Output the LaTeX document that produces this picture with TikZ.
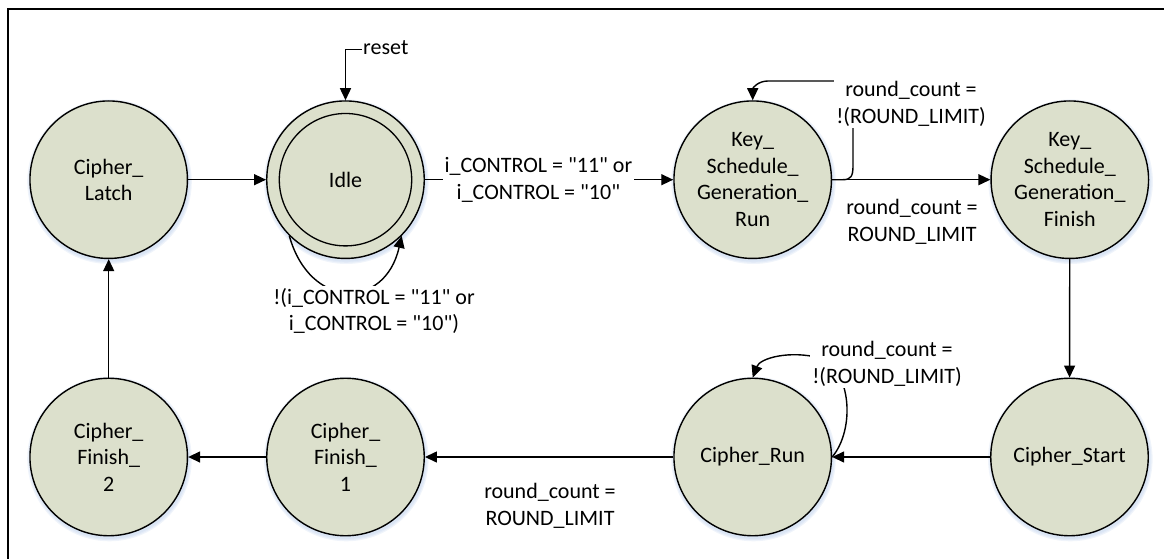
\documentclass[tikz,border=0pt]{standalone}
\usepackage{fontspec}
% no TeX ligature mapping, so that " stays a straight quote
\newfontfamily\diagfont{Carlito}
\usetikzlibrary{arrows.meta,backgrounds}
\definecolor{statefill}{RGB}{220,224,204}
\definecolor{glow}{RGB}{185,205,235}

\begin{document}
\begin{tikzpicture}[x=1pt,y=-1pt,
  every node/.style={font=\diagfont\fontsize{22}{26.5}\selectfont},
  state/.style={circle, draw, line width=1.4pt, fill=statefill,
                minimum size=157.5pt, inner sep=0pt, align=center},
  conn/.style={line width=1.4pt, -{Triangle[length=12pt,width=11pt]}},
  lbl/.style={align=center, inner sep=2pt},
  mask/.style={lbl, fill=white},
]
\useasboundingbox (0,0) rectangle (1164,559);

% frame
\draw[line width=2pt] (1164,9) -- (7.7,9) -- (7.7,559);

% states
\node[state] (latch)  at (108.7,179.7) {Cipher\_\\Latch};
\node[state] (idle)   at (345.5,179.7) {Idle};
\draw[line width=1.3pt] (idle.center) circle[radius=66.2pt];
\node[state] (ksgr)   at (752.7,179.7) {Key\_\\Schedule\_\\Generation\_\\Run};
\node[state] (ksgf)   at (1069.8,179.7) {Key\_\\Schedule\_\\Generation\_\\Finish};
\node[state] (cstart) at (1069.5,457) {Cipher\_Start};
\node[state] (crun)   at (752.7,457) {Cipher\_Run};
\node[state] (cf1)    at (345.5,457) {Cipher\_\\Finish\_\\1};
\node[state] (cf2)    at (108.7,457) {Cipher\_\\Finish\_\\2};

% soft glow under the states
\begin{scope}[on background layer]
  \foreach \s in {latch,idle,ksgr,ksgf,cstart,crun,cf1,cf2}{
    \foreach \k in {1,2,3}{
      \pgfmathsetmacro\rr{78.7+1.2*\k}
      \fill[glow, opacity=0.22] ([shift={(0.8,2)}]\s.center) circle[radius=\rr pt];
    }
  }
\end{scope}

% reset entry
\coordinate (rst) at (361.5,49.3);
\node[anchor=base west, inner sep=0pt] (resetlbl) at (363,55) {reset};
\draw[conn] (rst) -| (idle.north);

% transitions
\draw[conn] (latch) -- (idle);
\draw[conn] (idle) -- node[mask, pos=0.457] (lstart) {i\_CONTROL = "11" or\\i\_CONTROL = "10"} (ksgr);

\draw[conn] (idle.225) .. controls (310,310) and (385,310) .. (idle.-45);
\node[mask] (lidle) at (374,311) {!(i\_CONTROL = "11" or\\i\_CONTROL = "10")};

\draw[conn] (ksgr.east) -- (843,179.7) .. controls (851,179.7) and (853,176) .. (853,166)
  -- (853,95) .. controls (853,84) and (848,81) .. (838,81)
  -- (768,81) .. controls (758,81) and (752.7,88) .. (ksgr.north);
\node[mask] (lksgloop) at (911,104) {round\_count =\\!(ROUND\_LIMIT)};

\draw[conn] (ksgr) -- (ksgf);
\node[lbl] (lksgdone) at (912,222) {round\_count =\\ROUND\_LIMIT};

\draw[conn] (ksgf) -- (cstart);
\draw[conn] (cstart) -- (crun);

\draw[conn] (crun.east) .. controls (855,430) and (852,370) .. (820,358)
  .. controls (790,350) and (760,358) .. (crun.north);
\node[mask] (lcrloop) at (887,364) {round\_count =\\!(ROUND\_LIMIT)};

\draw[conn] (crun) -- (cf1);
\node[lbl] (lcrdone) at (550,506) {round\_count =\\ROUND\_LIMIT};

\draw[conn] (cf1) -- (cf2);
\draw[conn] (cf2) -- (latch);
\end{tikzpicture}
\end{document}
